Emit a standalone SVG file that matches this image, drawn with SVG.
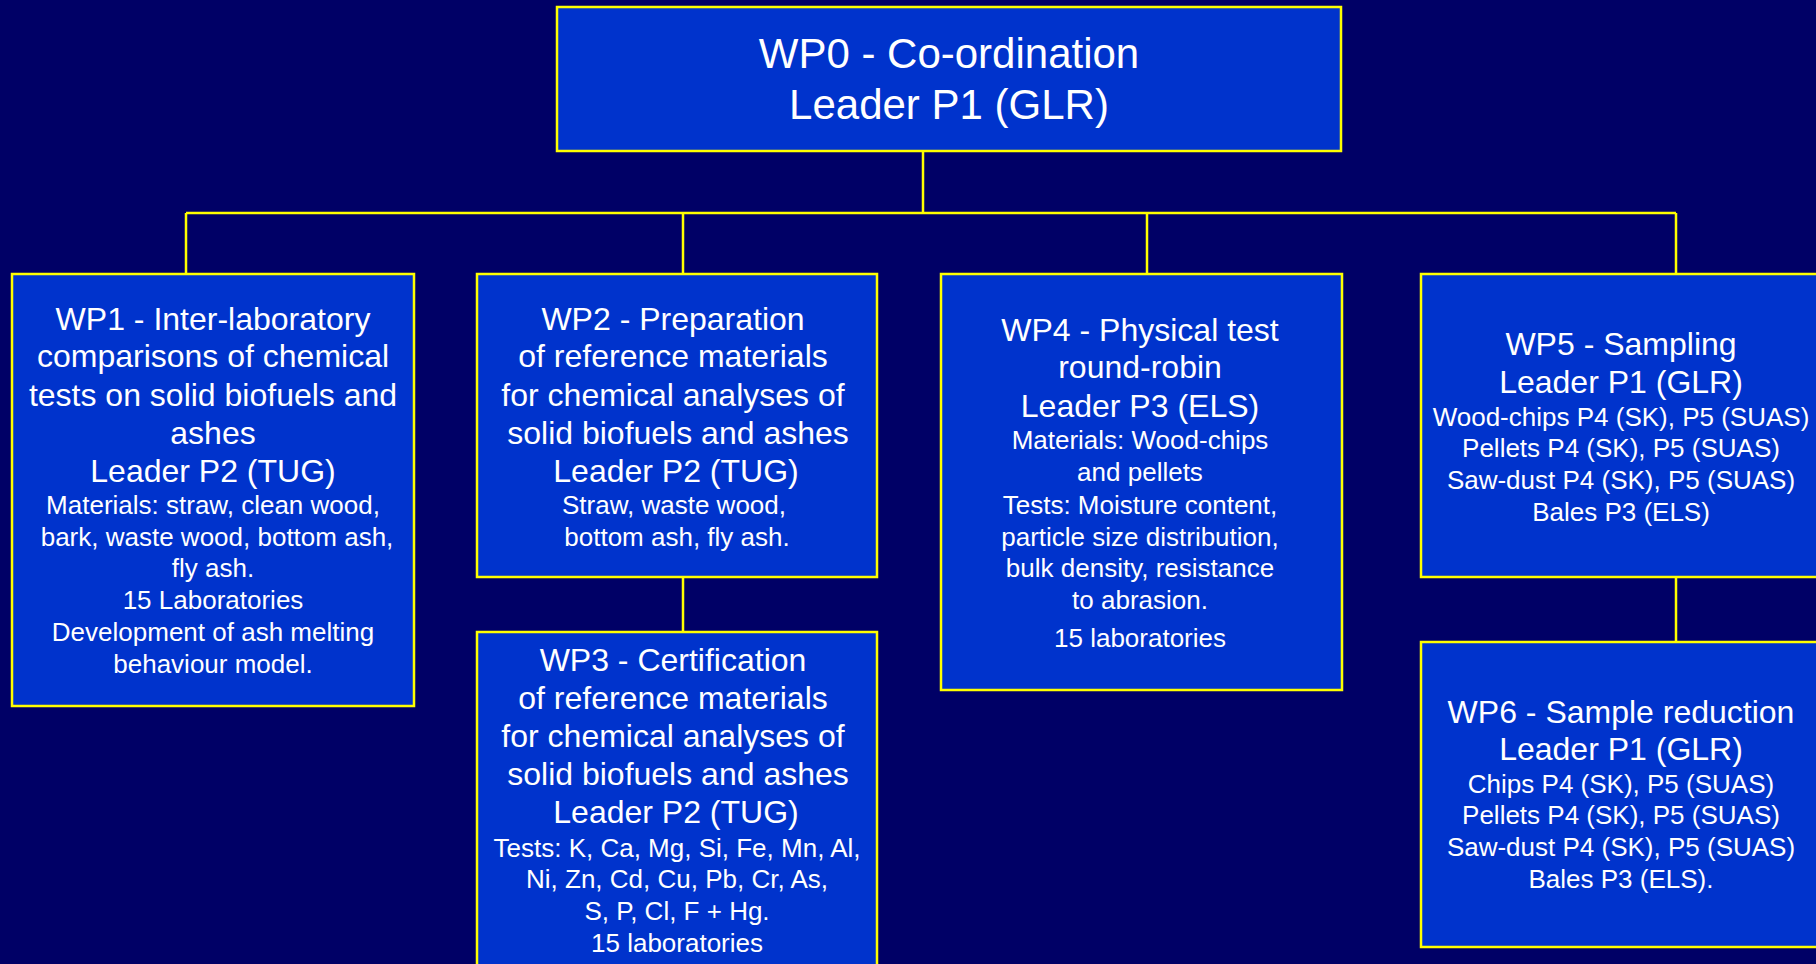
<svg xmlns="http://www.w3.org/2000/svg" width="1816" height="964" viewBox="0 0 1816 964">
<style>
.box{fill:#0033CC;stroke:#FFFF00;stroke-width:2.5}
.conn{stroke:#FFFF00;stroke-width:2.5;fill:none}
text{font-family:"Liberation Sans",Arial,sans-serif;fill:#FFFFFF;text-anchor:middle}
.xl{font-size:42px}
.l{font-size:32px}
.s{font-size:26px}
</style>
<rect width="1816" height="964" fill="#000066"/>
<g id="connectors">
<line class="conn" x1="923" y1="151" x2="923" y2="213"/>
<line class="conn" x1="186" y1="213" x2="1676" y2="213"/>
<line class="conn" x1="186" y1="213" x2="186" y2="274"/>
<line class="conn" x1="683" y1="213" x2="683" y2="274"/>
<line class="conn" x1="1147" y1="213" x2="1147" y2="274"/>
<line class="conn" x1="1676" y1="213" x2="1676" y2="274"/>
<line class="conn" x1="683" y1="577" x2="683" y2="632"/>
<line class="conn" x1="1676" y1="577" x2="1676" y2="642"/>
</g>
<g id="wp0">
<rect class="box" x="557" y="7" width="784" height="144"/>
<text class="xl" x="949" y="68">WP0 - Co-ordination</text>
<text class="xl" x="949" y="119">Leader P1 (GLR)</text>
</g>
<g id="wp1">
<rect class="box" x="12" y="274" width="402" height="432"/>
<text class="l" x="213" y="330">WP1 - Inter-laboratory</text>
<text class="l" x="213" y="367">comparisons of chemical</text>
<text class="l" x="213" y="406">tests on solid biofuels and</text>
<text class="l" x="213" y="444">ashes</text>
<text class="l" x="213" y="482">Leader P2 (TUG)</text>
<text class="s" x="213" y="514">Materials: straw, clean wood,</text>
<text class="s" x="217" y="546">bark, waste wood, bottom ash,</text>
<text class="s" x="213" y="577">fly ash.</text>
<text class="s" x="213" y="609">15 Laboratories</text>
<text class="s" x="213" y="641">Development of ash melting</text>
<text class="s" x="213" y="673">behaviour model.</text>
</g>
<g id="wp2">
<rect class="box" x="477" y="274" width="400" height="303"/>
<text class="l" x="673" y="330">WP2 - Preparation</text>
<text class="l" x="673" y="367">of reference materials</text>
<text class="l" x="673" y="406">for chemical analyses of</text>
<text class="l" x="678" y="444">solid biofuels and ashes</text>
<text class="l" x="676" y="482">Leader P2 (TUG)</text>
<text class="s" x="674" y="514">Straw, waste wood,</text>
<text class="s" x="677" y="546">bottom ash, fly ash.</text>
</g>
<g id="wp3">
<rect class="box" x="477" y="632" width="400" height="345"/>
<text class="l" x="673" y="671">WP3 - Certification</text>
<text class="l" x="673" y="709">of reference materials</text>
<text class="l" x="673" y="747">for chemical analyses of</text>
<text class="l" x="678" y="785">solid biofuels and ashes</text>
<text class="l" x="676" y="823">Leader P2 (TUG)</text>
<text class="s" x="677" y="857">Tests: K, Ca, Mg, Si, Fe, Mn, Al,</text>
<text class="s" x="677" y="888">Ni, Zn, Cd, Cu, Pb, Cr, As,</text>
<text class="s" x="677" y="920">S, P, Cl, F + Hg.</text>
<text class="s" x="677" y="952">15 laboratories</text>
</g>
<g id="wp4">
<rect class="box" x="941" y="274" width="401" height="416"/>
<text class="l" x="1140" y="341">WP4 - Physical test</text>
<text class="l" x="1140" y="378">round-robin</text>
<text class="l" x="1140" y="417">Leader P3 (ELS)</text>
<text class="s" x="1140" y="449">Materials: Wood-chips</text>
<text class="s" x="1140" y="481">and pellets</text>
<text class="s" x="1140" y="514">Tests: Moisture content,</text>
<text class="s" x="1140" y="546">particle size distribution,</text>
<text class="s" x="1140" y="577">bulk density, resistance</text>
<text class="s" x="1140" y="609">to abrasion.</text>
<text class="s" x="1140" y="647">15 laboratories</text>
</g>
<g id="wp5">
<rect class="box" x="1421" y="274" width="400" height="303"/>
<text class="l" x="1621" y="355">WP5 - Sampling</text>
<text class="l" x="1621" y="393">Leader P1 (GLR)</text>
<text class="s" x="1621" y="426">Wood-chips P4 (SK), P5 (SUAS)</text>
<text class="s" x="1621" y="457">Pellets P4 (SK), P5 (SUAS)</text>
<text class="s" x="1621" y="489">Saw-dust P4 (SK), P5 (SUAS)</text>
<text class="s" x="1621" y="521">Bales P3 (ELS)</text>
</g>
<g id="wp6">
<rect class="box" x="1421" y="642" width="400" height="305"/>
<text class="l" x="1621" y="723">WP6 - Sample reduction</text>
<text class="l" x="1621" y="760">Leader P1 (GLR)</text>
<text class="s" x="1621" y="793">Chips P4 (SK), P5 (SUAS)</text>
<text class="s" x="1621" y="824">Pellets P4 (SK), P5 (SUAS)</text>
<text class="s" x="1621" y="856">Saw-dust P4 (SK), P5 (SUAS)</text>
<text class="s" x="1621" y="888">Bales P3 (ELS).</text>
</g>
</svg>
